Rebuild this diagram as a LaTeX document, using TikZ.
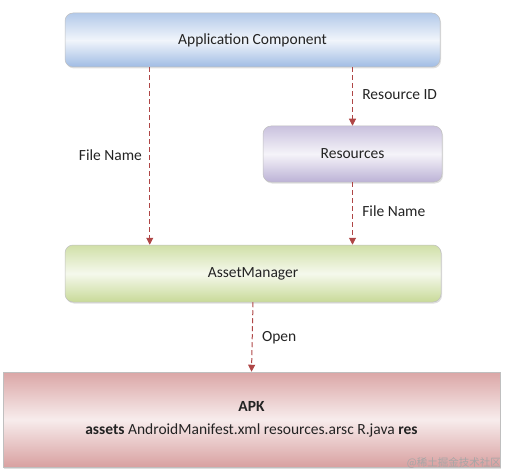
\documentclass[tikz,border=0pt]{standalone}
\usepackage{fontspec}
\setmainfont{Carlito}
\newfontfamily\cjkfont{Noto Sans CJK SC}
\usetikzlibrary{shadows,arrows.meta}

\definecolor{appblue}{RGB}{160,188,228}
\definecolor{respurple}{RGB}{188,178,214}
\definecolor{assetgreen}{RGB}{200,218,152}
\definecolor{apkred}{RGB}{212,150,150}
\definecolor{flowred}{RGB}{175,70,70}
\definecolor{inktext}{RGB}{35,35,35}

\tikzset{
  box/.style = {rectangle, rounded corners=8pt, draw=black!25, line width=0.5pt,
    text=inktext, font=\fontsize{15.5}{18}\selectfont, align=center,
    drop shadow={opacity=0.25, shadow xshift=1pt, shadow yshift=-1.5pt}},
  flow/.style = {draw=flowred, dashed, line width=1pt,
    dash pattern=on 5pt off 3pt, -{Triangle[length=7pt,width=7pt]}},
  lbl/.style = {text=inktext, font=\fontsize{15.5}{18}\selectfont}
}

\begin{document}
\begin{tikzpicture}[x=1pt,y=-1pt]

    \useasboundingbox (0,0) rectangle (508,473);

    \node[box,
    top color = appblue!80,
    bottom color = appblue,
    middle color = white!85!appblue,
    minimum width = 375pt,
    minimum height = 54pt] (app) at (252.5,40) {Application Component};

    \node[box,
    top color = respurple!80,
    bottom color = respurple,
    middle color = white!85!respurple,
    minimum width = 179pt,
    minimum height = 56pt] (res) at (352.5,154) {Resources};

    \node[box,
    top color = assetgreen!85,
    bottom color = assetgreen,
    middle color = white!82!assetgreen,
    minimum width = 376pt,
    minimum height = 57pt] (asset) at (253,273.5) {AssetManager};

    \node[box,
    rounded corners = 0pt,
    top color = apkred!85,
    bottom color = apkred!90,
    middle color = white!82!apkred,
    minimum width = 497pt,
    minimum height = 95pt] (apk) at (251.5,419.5) {\textbf{APK}\\[5pt]
      \textbf{assets} AndroidManifest.xml resources.arsc R.java \textbf{res}};

    \node[text=black!35, font=\cjkfont\fontsize{10.5}{12}\selectfont,
      anchor=south east, inner sep=1pt] (mark) at (502,470) {@稀土掘金技术社区};


      \draw[flow] ([xshift=85pt]app.south west) to
        node[lbl, left, xshift=-4pt, yshift=1pt] (fn1) {File Name}
        ([xshift=85pt]asset.north west);
      \draw[flow] (app.south -| res.north) to
        node[lbl, right, xshift=6pt, yshift=2pt] (rid) {Resource ID}
        (res.north);
      \draw[flow] (res.south) to
        node[lbl, right, xshift=6pt, yshift=2pt] (fn2) {File Name}
        (asset.north -| res.south);
      \draw[flow] (asset.south) to
        node[lbl, right, xshift=6pt, yshift=-1pt] (open) {Open}
        (apk.north);
  \end{tikzpicture}
\end{document}
